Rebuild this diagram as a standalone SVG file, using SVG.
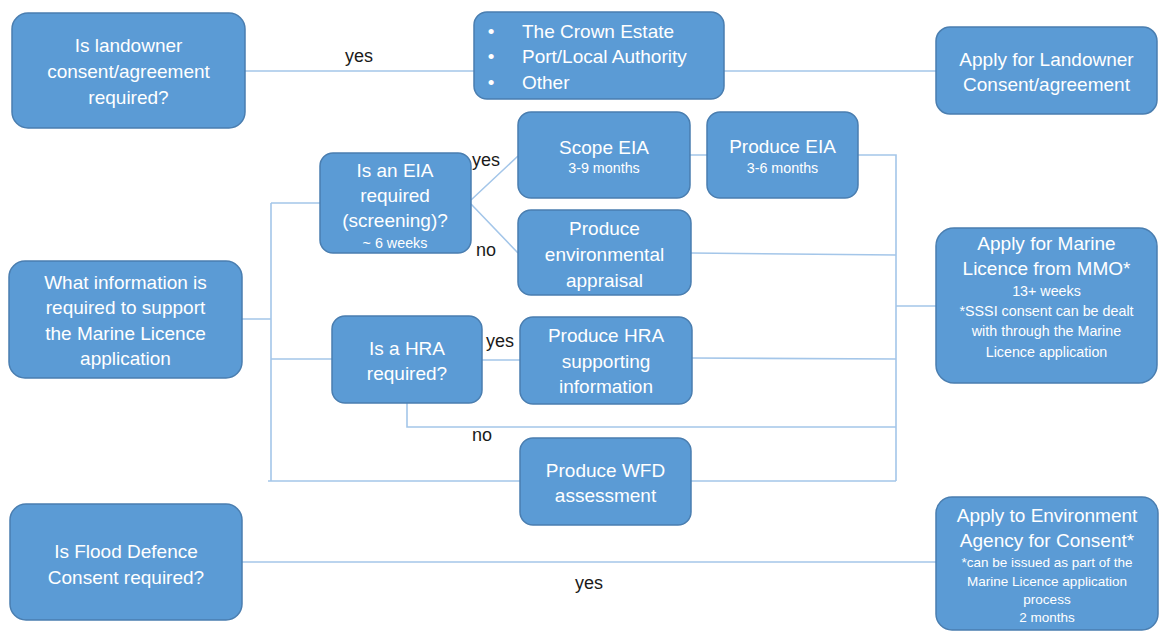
<svg xmlns="http://www.w3.org/2000/svg" width="1160" height="631" viewBox="0 0 1160 631">
<style>
.box{fill:#5B9BD5;stroke:#4A7EB0;stroke-width:1.5}
.t{font-family:"Liberation Sans",Arial,sans-serif;font-size:19px;fill:#ffffff;text-anchor:middle}
.s{font-size:14.3px}
.xs{font-size:13.5px}
.lb{font-family:"Liberation Sans",Arial,sans-serif;font-size:18px;fill:#1a1a1a;text-anchor:middle}
.c{fill:none;stroke:#A4C6E9;stroke-width:1.6}
</style>
<rect width="1160" height="631" fill="#ffffff"/>
<g id="connectors">
<path class="c" d="M245,71H474M724,71H936"/>
<path class="c" d="M242,319H271M271,203V481M271,203H320M271,359H332M268,481H520M691,481H896"/>
<path class="c" d="M471,200L518,156M471,204L518,253"/>
<path class="c" d="M690,155H707M858,155H896V481M691,253L896,255M482,360H520M692,358L896,359M407,403V427H896M896,306H936"/>
<path class="c" d="M242,562H936"/>
<text class="lb" x="359" y="62">yes</text>
<text class="lb" x="486" y="166">yes</text>
<text class="lb" x="486" y="256">no</text>
<text class="lb" x="500" y="347">yes</text>
<text class="lb" x="482" y="441">no</text>
<text class="lb" x="589" y="589">yes</text>
</g>
<g id="n-landowner">
<rect class="box" x="12" y="13" width="233" height="115" rx="16"/>
<text class="t" x="128.5" y="52">Is landowner</text>
<text class="t" x="128.5" y="78">consent/agreement</text>
<text class="t" x="128.5" y="104">required?</text>
</g>
<g id="n-owners">
<rect class="box" x="474" y="12" width="250" height="87" rx="13"/>
<text class="t" x="491" y="38">•</text>
<text class="t" x="491" y="63">•</text>
<text class="t" x="491" y="89">•</text>
<text class="t" x="522" y="38" style="text-anchor:start">The Crown Estate</text>
<text class="t" x="522" y="63" style="text-anchor:start">Port/Local Authority</text>
<text class="t" x="522" y="89" style="text-anchor:start">Other</text>
</g>
<g id="n-apply-landowner">
<rect class="box" x="936" y="27" width="221" height="87" rx="14"/>
<text class="t" x="1046.5" y="66">Apply for Landowner</text>
<text class="t" x="1046.5" y="91">Consent/agreement</text>
</g>
<g id="n-eia">
<rect class="box" x="320" y="153" width="151" height="100" rx="13"/>
<text class="t" x="395" y="177">Is an EIA</text>
<text class="t" x="395" y="202">required</text>
<text class="t" x="395" y="227">(screening)?</text>
<text class="t s" x="395" y="248">~ 6 weeks</text>
</g>
<g id="n-scope">
<rect class="box" x="518" y="112" width="172" height="86" rx="13"/>
<text class="t" x="604" y="154">Scope EIA</text>
<text class="t s" x="604" y="173">3-9 months</text>
</g>
<g id="n-produce-eia">
<rect class="box" x="707" y="112" width="151" height="86" rx="13"/>
<text class="t" x="782.5" y="153">Produce EIA</text>
<text class="t s" x="782.5" y="173">3-6 months</text>
</g>
<g id="n-appraisal">
<rect class="box" x="518" y="210" width="173" height="85" rx="13"/>
<text class="t" x="604.5" y="235">Produce</text>
<text class="t" x="604.5" y="261">environmental</text>
<text class="t" x="604.5" y="287">appraisal</text>
</g>
<g id="n-marine">
<rect class="box" x="936" y="228" width="221" height="155" rx="18"/>
<text class="t" x="1046.5" y="250">Apply for Marine</text>
<text class="t" x="1046.5" y="275">Licence from MMO*</text>
<text class="t s" x="1046.5" y="296">13+ weeks</text>
<text class="t s" x="1046.5" y="316">*SSSI consent can be dealt</text>
<text class="t s" x="1046.5" y="336">with through the Marine</text>
<text class="t s" x="1046.5" y="357">Licence application</text>
</g>
<g id="n-info">
<rect class="box" x="9" y="261" width="233" height="117" rx="16"/>
<text class="t" x="125.5" y="289">What information is</text>
<text class="t" x="125.5" y="314">required to support</text>
<text class="t" x="125.5" y="340">the Marine Licence</text>
<text class="t" x="125.5" y="365">application</text>
</g>
<g id="n-hra">
<rect class="box" x="332" y="316" width="150" height="87" rx="13"/>
<text class="t" x="407" y="355">Is a HRA</text>
<text class="t" x="407" y="380">required?</text>
</g>
<g id="n-hra-info">
<rect class="box" x="520" y="317" width="172" height="87" rx="13"/>
<text class="t" x="606" y="342">Produce HRA</text>
<text class="t" x="606" y="368">supporting</text>
<text class="t" x="606" y="393">information</text>
</g>
<g id="n-wfd">
<rect class="box" x="520" y="438" width="171" height="87" rx="13"/>
<text class="t" x="605.5" y="477">Produce WFD</text>
<text class="t" x="605.5" y="502">assessment</text>
</g>
<g id="n-flood">
<rect class="box" x="10" y="504" width="232" height="116" rx="16"/>
<text class="t" x="126" y="558">Is Flood Defence</text>
<text class="t" x="126" y="584">Consent required?</text>
</g>
<g id="n-ea">
<rect class="box" x="936" y="497" width="222" height="133" rx="16"/>
<text class="t" x="1047" y="522">Apply to Environment</text>
<text class="t" x="1047" y="547">Agency for Consent*</text>
<text class="t xs" x="1047" y="567">*can be issued as part of the</text>
<text class="t xs" x="1047" y="586">Marine Licence application</text>
<text class="t xs" x="1047" y="604">process</text>
<text class="t xs" x="1047" y="622">2 months</text>
</g>
</svg>
